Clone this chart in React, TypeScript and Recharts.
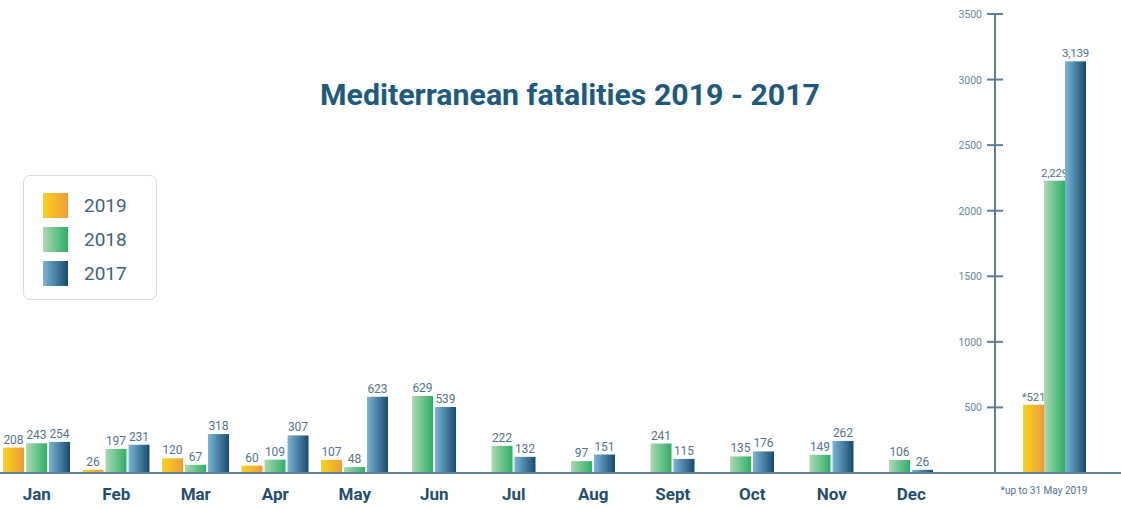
import React from 'react';
import { BarChart, Bar, XAxis, YAxis, Legend } from 'recharts';

// ---- data ----
const months = ['Jan', 'Feb', 'Mar', 'Apr', 'May', 'Jun', 'Jul', 'Aug', 'Sept', 'Oct', 'Nov', 'Dec'];
const fatalities2019: (number | null)[] = [208, 26, 120, 60, 107, null, null, null, null, null, null, null];
const fatalities2018 = [243, 197, 67, 109, 48, 629, 222, 97, 241, 135, 149, 106];
const fatalities2017 = [254, 231, 318, 307, 623, 539, 132, 151, 115, 176, 262, 26];

const totalCategory = ['*up to 31 May 2019'];
const total2019 = [521];
const total2018 = [2229];
const total2017 = [3139];

const totalTicks = [500, 1000, 1500, 2000, 2500, 3000, 3500];

const seriesKeys = ['y2019', 'y2018', 'y2017'];
const seriesNames = ['2019', '2018', '2017'];
const seriesGradients: Record<string, [string, string]> = {
  y2019: ['#f9d31a', '#ed9b3e'],
  y2018: ['#a9dab2', '#2fae68'],
  y2017: ['#78b6da', '#1b4a6b'],
};

const monthlyData = months.map((m, i) => ({
  month: m,
  y2019: fatalities2019[i],
  y2018: fatalities2018[i],
  y2017: fatalities2017[i],
}));

const totalData = totalCategory.map((c, i) => ({
  label: c,
  y2019: total2019[i],
  y2018: total2018[i],
  y2017: total2017[i],
}));

// ---- styles ----
const AXIS = '#5b7f96';
const LABEL = '#557388';
const FONT = 'Roboto, "Noto Sans", sans-serif';
const GAP = 2;

const Gradients = ({ prefix }: { prefix: string }) => (
  <defs>
    {seriesKeys.map((k) => (
      <linearGradient key={k} id={`${prefix}-${k}`} x1="0" y1="0" x2="1" y2="0">
        <stop offset="0%" stopColor={seriesGradients[k][0]} />
        <stop offset="100%" stopColor={seriesGradients[k][1]} />
      </linearGradient>
    ))}
  </defs>
);

const makeShape =
  (key: string, prefix: string, shift: boolean, fmt: (v: number) => string, fs: number) =>
  (props: any) => {
    const { x, y, width, height, payload } = props;
    const v = payload?.[key];
    if (v == null) return <g />;
    let dx = 0;
    if (shift && payload.y2019 == null) dx = -(width + GAP) / 2;
    return (
      <g>
        <rect x={x + dx} y={y} width={width} height={Math.max(height, 0)} fill={`url(#${prefix}-${key})`} />
        <text
          x={x + dx + width / 2}
          y={y - 4}
          textAnchor="middle"
          fontSize={fs}
          fontFamily={FONT}
          fill={LABEL}
          letterSpacing={fs < 12 ? -0.2 : 0}
        >
          {fmt(v)}
        </text>
      </g>
    );
  };

const plain = (v: number) => String(v);
const comma = (v: number) => v.toLocaleString('en-US');

const renderLegend = (props: any) => {
  const payload = [...(props.payload || [])].sort(
    (a: any, b: any) => seriesKeys.indexOf(a.dataKey) - seriesKeys.indexOf(b.dataKey)
  );
  return (
    <div
      style={{
        width: 132,
        height: 123,
        border: '1px solid #d5dbe0',
        borderRadius: 7,
        position: 'relative',
        background: '#fff',
      }}
    >
      {payload.map((p: any, i: number) => {
        const g = seriesGradients[p.dataKey];
        return (
          <div key={p.dataKey} style={{ position: 'absolute', left: 19, top: 17 + i * 34, height: 25, display: 'flex', alignItems: 'center' }}>
            <div style={{ width: 25, height: 25, background: `linear-gradient(to right, ${g[0]}, ${g[1]})` }} />
            <span style={{ marginLeft: 16, fontSize: 19, fontFamily: FONT, color: '#3f6479' }}>{p.value}</span>
          </div>
        );
      })}
    </div>
  );
};

const YTick = (props: any) => {
  const { x, y, payload } = props;
  const off = 5; // tickMargin
  return (
    <g>
      <line x1={x + off} x2={x + off + 16} y1={y} y2={y} stroke={AXIS} strokeWidth={2} />
      <text x={x} y={y} dy={4} textAnchor="end" fontSize={10.5} fontFamily={FONT} fill="#6a8799">
        {payload.value}
      </text>
    </g>
  );
};

const FootTick = (props: any) => {
  const { x, y, payload } = props;
  return (
    <text x={x - 10} y={y} dy="0.71em" textAnchor="middle" fontSize={10} fontFamily={FONT} fill="#50708a">
      {payload.value}
    </text>
  );
};

export default function App() {
  return (
    <div style={{ position: 'absolute', left: 0, top: 0, width: 1121, height: 509, background: '#fff', overflow: 'hidden' }}>
      <div
        style={{
          position: 'absolute',
          left: 0,
          top: 80,
          width: 1140,
          textAlign: 'center',
          fontFamily: FONT,
          fontWeight: 700,
          fontSize: 30.3,
          lineHeight: '30px',
          color: '#1d5a7c',
        }}
      >
        Mediterranean fatalities 2019 - 2017
      </div>

      <div style={{ position: 'absolute', left: -3, top: 0 }}>
        <BarChart
          width={998}
          height={509}
          data={monthlyData}
          margin={{ top: 14, right: 0, bottom: 6, left: 0 }}
          barSize={21}
          barGap={GAP}
        >
          <Gradients prefix="m" />
          <XAxis
            dataKey="month"
            interval={0}
            height={30}
            padding={{ left: 0, right: 44 }}
            axisLine={{ stroke: AXIS, strokeWidth: 2 }}
            tickLine={false}
            tickMargin={9}
            tick={{ fill: '#1f4e6e', fontSize: 17, fontWeight: 700, fontFamily: FONT }}
          />
          <YAxis hide domain={[0, 3750]} />
          {seriesKeys.map((k, i) => (
            <Bar
              key={k}
              dataKey={k}
              name={seriesNames[i]}
              fill={seriesGradients[k][1]}
              isAnimationActive={false}
              shape={makeShape(k, 'm', k !== 'y2019', plain, 12)}
            />
          ))}
          <Legend
            layout="horizontal"
            verticalAlign="middle"
            align="center"
            content={renderLegend}
            wrapperStyle={{ left: 26, top: 175, width: 134, height: 125 }}
          />
        </BarChart>
      </div>

      <div style={{ position: 'absolute', left: 935, top: 0 }}>
        <BarChart
          width={186}
          height={509}
          data={totalData}
          margin={{ top: 14, right: 0, bottom: 6, left: 0 }}
          barSize={21}
          barGap={0}
        >
          <Gradients prefix="t" />
          <XAxis
            dataKey="label"
            height={30}
            padding={{ left: 0, right: 8 }}
            axisLine={{ stroke: AXIS, strokeWidth: 2 }}
            tickLine={false}
            tickMargin={8}
            tick={<FootTick />}
          />
          <YAxis
            width={60}
            domain={[0, 3500]}
            ticks={totalTicks}
            interval={0}
            axisLine={{ stroke: AXIS, strokeWidth: 2 }}
            tickLine={false}
            tickSize={8}
            tickMargin={5}
            tick={<YTick />}
          />
          {seriesKeys.map((k, i) => (
            <Bar
              key={k}
              dataKey={k}
              name={seriesNames[i]}
              fill={seriesGradients[k][1]}
              isAnimationActive={false}
              shape={makeShape(k, 't', false, k === 'y2019' ? (v) => '*' + v : comma, 11.5)}
            />
          ))}
        </BarChart>
      </div>
    </div>
  );
}
